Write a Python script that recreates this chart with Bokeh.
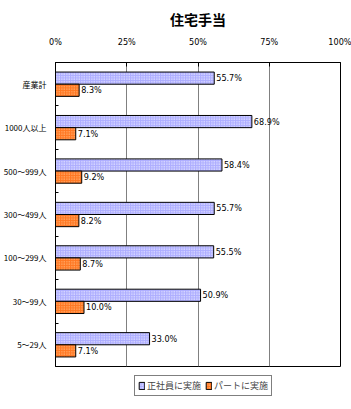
from bokeh.plotting import figure
from bokeh.layouts import column
from bokeh.models import ColumnDataSource, Range1d, FixedTicker, Legend, LegendItem
from bokeh.core.properties import value
from bokeh.embed import file_html
from bokeh.resources import INLINE

categories = ["産業計", "1000人以上", "500～999人", "300～499人", "100～299人", "30～99人", "5～29人"]
regular = [55.7, 68.9, 58.4, 55.7, 55.5, 50.9, 33.0]
part = [8.3, 7.1, 9.2, 8.2, 8.7, 10.0, 7.1]
series_names = ["正社員に実施", "パートに実施"]
x_ticks = [0, 25, 50, 75, 100]

JP = "Noto Sans CJK JP"
NUM = "DejaVu Sans Condensed"

n = len(categories)
pos = [i + 0.5 for i in range(n)]
off = 0.14
h = 0.28

src = ColumnDataSource(dict(
    cat=categories,
    y1=[p_ - off for p_ in pos],
    y2=[p_ + off for p_ in pos],
    v1=regular,
    v2=part,
    t1=[f"{v:.1f}%" for v in regular],
    t2=[f"{v:.1f}%" for v in part],
))

style1 = dict(fill_color="#adadff", line_color="black", line_width=1,
              hatch_pattern=".", hatch_color="white", hatch_scale=2.5, hatch_weight=1)
style2 = dict(fill_color="#ff7722", line_color="black", line_width=1,
              hatch_pattern=".", hatch_color="#ffcc99", hatch_scale=2.5, hatch_weight=1)

p = figure(width=351, height=372, output_backend="svg", toolbar_location=None,
           x_range=Range1d(0, 100), y_range=Range1d(n, 0),
           x_axis_location="above", min_border_left=54, min_border_right=11,
           min_border_top=62, min_border_bottom=6)
p.title.text = "住宅手当"
p.title.align = "center"
p.title.text_font = JP
p.title.text_font_size = "14px"
p.title.text_font_style = "bold"
p.title.text_color = "black"
p.title.standoff = 10

p.hbar(y="y1", right="v1", left=0, height=h, source=src, **style1)
p.hbar(y="y2", right="v2", left=0, height=h, source=src, **style2)

p.text(x="v1", y="y1", text="t1", source=src, x_offset=2, text_baseline="middle",
       text_font=value(NUM), text_font_size="9px", text_color="black")
p.text(x="v2", y="y2", text="t2", source=src, x_offset=2, text_baseline="middle",
       text_font=value(NUM), text_font_size="9px", text_color="black")

xa = p.xaxis[0]
xa.ticker = FixedTicker(ticks=x_ticks)
xa.major_label_overrides = {t: f"{t}%" for t in x_ticks}
xa.major_label_text_font = NUM
xa.major_label_text_font_size = "9px"
xa.major_label_text_color = "black"
xa.major_tick_in = 4
xa.major_tick_out = 0
xa.minor_tick_line_color = None
xa.axis_line_color = "black"
xa.major_label_standoff = 16

ya = p.yaxis[0]
ya.ticker = FixedTicker(ticks=pos, minor_ticks=list(range(n + 1)))
ya.major_label_overrides = {p_: c for p_, c in zip(pos, categories)}
ya.major_label_text_font = JP
ya.major_label_text_font_size = "8px"
ya.major_label_text_color = "black"
ya.major_tick_line_color = None
ya.minor_tick_in = 3
ya.minor_tick_out = 0
ya.minor_tick_line_color = "black"
ya.axis_line_color = "black"
ya.major_label_standoff = 3

p.xgrid.ticker = FixedTicker(ticks=[25, 50, 75])
p.xgrid.grid_line_color = "#808080"
p.ygrid.grid_line_color = None
p.outline_line_color = "black"
p.outline_line_alpha = 1
p.background_fill_color = "white"
p.border_fill_color = "white"

# legend strip below the chart (swatch renderers sit outside the visible range)
lg = figure(width=351, height=37, output_backend="svg", toolbar_location=None,
            x_range=Range1d(0, 1), y_range=Range1d(0, 1), min_border=0)
lg.axis.visible = False
lg.grid.visible = False
lg.outline_line_color = None
swatch = ColumnDataSource(dict(y=[-5], right=[-5]))
l1 = lg.hbar(y="y", right="right", left=-6, height=0.1, source=swatch, **style1)
l2 = lg.hbar(y="y", right="right", left=-6, height=0.1, source=swatch, **style2)
legend = Legend(items=[LegendItem(label=series_names[0], renderers=[l1]),
                       LegendItem(label=series_names[1], renderers=[l2])],
                orientation="horizontal", location=(79, 13),
                label_text_font=JP, label_text_font_size="9px",
                glyph_width=7, glyph_height=9, label_standoff=2, spacing=4,
                padding=3, margin=0, border_line_color="black",
                border_line_width=1, label_height=9)
lg.add_layout(legend, "center")

open("out.html", "w").write(file_html(column(p, lg, spacing=0), INLINE))
